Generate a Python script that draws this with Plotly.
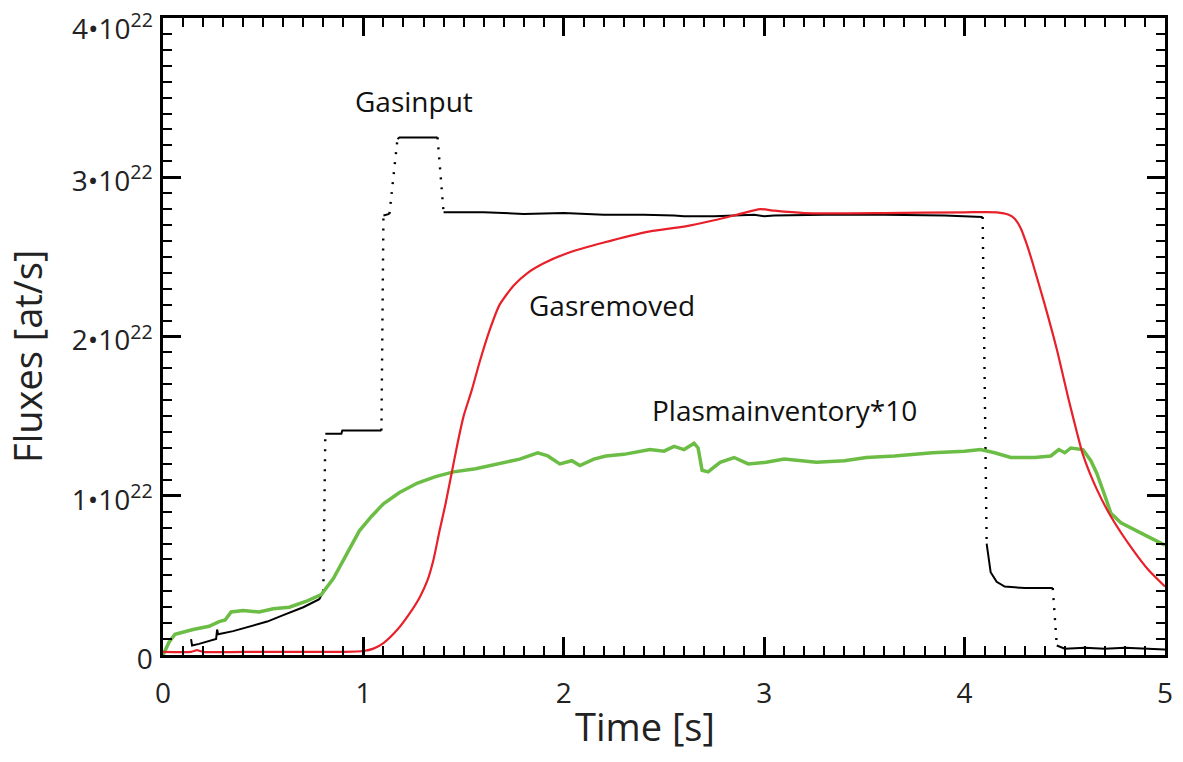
import plotly.graph_objects as go

# values in units of 1e22 at/s
gas_in_t = [0.14, 0.145, 0.18, 0.23, 0.265, 0.27, 0.275, 0.35, 0.43, 0.52, 0.60, 0.70, 0.78, 0.80,
            0.81, 0.89, 0.895, 1.09,
            1.10, 1.13,
            1.17, 1.18, 1.37,
            1.40, 1.6, 1.8, 2.0, 2.2, 2.4, 2.55, 2.6, 2.75, 2.85, 2.95, 3.0, 3.05, 3.3, 3.6, 3.9, 4.09,
            4.11, 4.13, 4.16, 4.2, 4.3, 4.44,
            4.46, 4.5, 4.6, 4.7, 4.8, 4.9, 5.0]
gas_in_v = [0.10, 0.06, 0.07, 0.09, 0.10, 0.16, 0.13, 0.15, 0.18, 0.21, 0.25, 0.30, 0.35, 0.40,
            1.39, 1.39, 1.41, 1.41,
            2.76, 2.77,
            3.24, 3.25, 3.25,
            2.78, 2.78, 2.77, 2.775, 2.765, 2.765, 2.76, 2.755, 2.755, 2.76, 2.765, 2.755, 2.76, 2.765, 2.765, 2.76, 2.75,
            0.70, 0.52, 0.46, 0.43, 0.42, 0.42,
            0.06, 0.04, 0.045, 0.04, 0.045, 0.04, 0.035]

gas_rm_t = [0.0, 0.14, 0.17, 0.2, 0.5, 0.9, 1.0, 1.05, 1.10, 1.17, 1.23, 1.28, 1.32, 1.35, 1.38, 1.41,
            1.44, 1.47, 1.50, 1.54, 1.58, 1.63, 1.68, 1.75, 1.82, 1.9, 2.01, 2.2, 2.43, 2.6, 2.75,
            2.88, 2.98, 3.05, 3.2, 3.6, 4.0, 4.16, 4.22, 4.25, 4.28, 4.31, 4.34, 4.40, 4.46, 4.52,
            4.56, 4.59, 4.66, 4.73, 4.84, 4.92, 5.0]
gas_rm_v = [0.02, 0.02, 0.03, 0.02, 0.02, 0.02, 0.025, 0.04, 0.075, 0.16, 0.26, 0.36, 0.47, 0.60, 0.78, 0.95,
            1.14, 1.33, 1.50, 1.66, 1.84, 2.04, 2.20, 2.32, 2.40, 2.46, 2.52, 2.59, 2.66, 2.69, 2.73,
            2.77, 2.80, 2.79, 2.775, 2.775, 2.78, 2.78, 2.765, 2.74, 2.68, 2.58, 2.46, 2.20, 1.92, 1.60,
            1.40, 1.26, 1.04, 0.87, 0.66, 0.53, 0.43]

plasma_t = [0.0, 0.03, 0.06, 0.15, 0.23, 0.28, 0.31, 0.34, 0.40, 0.48, 0.55, 0.63, 0.72, 0.79, 0.85,
            0.92, 0.98, 1.04, 1.10, 1.18, 1.27, 1.36, 1.45, 1.56, 1.68, 1.78, 1.87, 1.92, 1.98, 2.04,
            2.08, 2.15, 2.21, 2.3, 2.43, 2.5, 2.55, 2.6, 2.65, 2.67, 2.69, 2.72, 2.78, 2.85, 2.92,
            3.01, 3.1, 3.26, 3.4, 3.51, 3.65, 3.84, 4.0, 4.08, 4.15, 4.23, 4.35, 4.43, 4.47, 4.5,
            4.53, 4.59, 4.63, 4.66, 4.70, 4.73, 4.78, 4.83, 4.92, 5.0]
plasma_v = [0.0, 0.08, 0.13, 0.16, 0.18, 0.21, 0.22, 0.27, 0.28, 0.27, 0.29, 0.30, 0.34, 0.38, 0.48,
            0.64, 0.78, 0.87, 0.95, 1.02, 1.08, 1.12, 1.15, 1.17, 1.20, 1.23, 1.27, 1.25, 1.20, 1.22,
            1.19, 1.23, 1.25, 1.26, 1.29, 1.28, 1.31, 1.29, 1.33, 1.30, 1.16, 1.15, 1.21, 1.24, 1.20,
            1.21, 1.23, 1.21, 1.22, 1.24, 1.25, 1.27, 1.28, 1.29, 1.27, 1.24, 1.24, 1.25, 1.29, 1.27,
            1.30, 1.29, 1.22, 1.14, 1.00, 0.89, 0.83, 0.80, 0.74, 0.69]

y_tick_vals = [0, 1, 2, 3, 4]
y_tick_text = ["0", "1•10<sup>22</sup>", "2•10<sup>22</sup>", "3•10<sup>22</sup>", "4•10<sup>22</sup>"]
x_tick_vals = [0, 1, 2, 3, 4, 5]

labels = ["Gasinput", "Gasremoved", "Plasmainventory*10"]
label_t = [1.25, 2.24, 3.10]
label_v = [3.48, 2.20, 1.54]

x_title = "Time [s]"
y_title = "Fluxes [at/s]"

RED = "#e8202a"
GREEN = "#6cbd45"
FONT = "Open Sans"
TICK_FONT = dict(family=FONT, size=28, color="#222")

fig = go.Figure()

# Gas input: slow segments solid, fast jumps dotted
solid_x, solid_y = [], []
for i in range(len(gas_in_t)):
    if i > 0:
        dt = gas_in_t[i] - gas_in_t[i - 1]
        dv = abs(gas_in_v[i] - gas_in_v[i - 1])
        if dv > 0.3 and dt <= 0.05:
            fig.add_trace(go.Scatter(x=[gas_in_t[i - 1], gas_in_t[i]], y=[gas_in_v[i - 1], gas_in_v[i]],
                                     mode="lines", line=dict(color="black", width=2.4, dash="2px,8px"),
                                     showlegend=False, hoverinfo="skip"))
            solid_x.append(None)
            solid_y.append(None)
    solid_x.append(gas_in_t[i])
    solid_y.append(gas_in_v[i])
fig.add_trace(go.Scatter(x=solid_x, y=solid_y, mode="lines", line=dict(color="black", width=2),
                         connectgaps=False, showlegend=False))

fig.add_trace(go.Scatter(x=plasma_t, y=plasma_v, mode="lines",
                         line=dict(color=GREEN, width=3.5), showlegend=False))
fig.add_trace(go.Scatter(x=gas_rm_t, y=gas_rm_v, mode="lines", line_shape="spline",
                         line=dict(color=RED, width=2.2, smoothing=0.6), showlegend=False))

for txt, tx, ty in zip(labels, label_t, label_v):
    fig.add_annotation(x=tx, y=ty, text=txt, showarrow=False,
                       font=dict(family=FONT, size=28, color="#111"))

# axis titles
fig.add_annotation(xref="paper", yref="paper", x=0.481, y=-0.112, text=x_title, showarrow=False,
                   xanchor="center", yanchor="middle", font=dict(family=FONT, size=38, color="#222"))
fig.add_annotation(xref="paper", yref="paper", x=-0.135, y=0.469, text=y_title, showarrow=False,
                   textangle=-90, xanchor="center", yanchor="middle",
                   font=dict(family=FONT, size=38, color="#222"))

# top y tick label sits just below the frame top, as in the reference
top_idx = len(y_tick_vals) - 1
fig.add_annotation(xref="paper", yref="y", x=0, y=y_tick_vals[top_idx], text=y_tick_text[top_idx],
                   showarrow=False, xanchor="right", yanchor="middle", xshift=-8, yshift=-8,
                   font=TICK_FONT)
axis_y_text = y_tick_text[:top_idx] + [""]

axis_common = dict(showline=True, linecolor="black", linewidth=2.5, mirror="ticks",
                   ticks="inside", ticklen=18, tickwidth=2.5, tickcolor="black",
                   showgrid=False, zeroline=False, ticklabeloverflow="allow", automargin=False,
                   tickfont=TICK_FONT,
                   minor=dict(ticks="inside", ticklen=9, tickwidth=2, tickcolor="black", showgrid=False))

fig.update_xaxes(**axis_common, range=[0, 5], tickvals=x_tick_vals, ticklabelstandoff=12)
fig.update_xaxes(minor_dtick=0.1)
fig.update_yaxes(**axis_common, range=[0, 4], tickvals=y_tick_vals, ticktext=axis_y_text,
                 ticklabelstandoff=2, ticklabelshift=4)
fig.update_yaxes(minor_dtick=0.1)

fig.update_layout(width=1183, height=762, margin=dict(l=163, r=18, t=18, b=107, autoexpand=False),
                  plot_bgcolor="white", paper_bgcolor="white")

fig.write_html("out.html", config={"displayModeBar": False},
               post_script="document.body.style.margin='0';document.body.style.overflow='hidden';")
